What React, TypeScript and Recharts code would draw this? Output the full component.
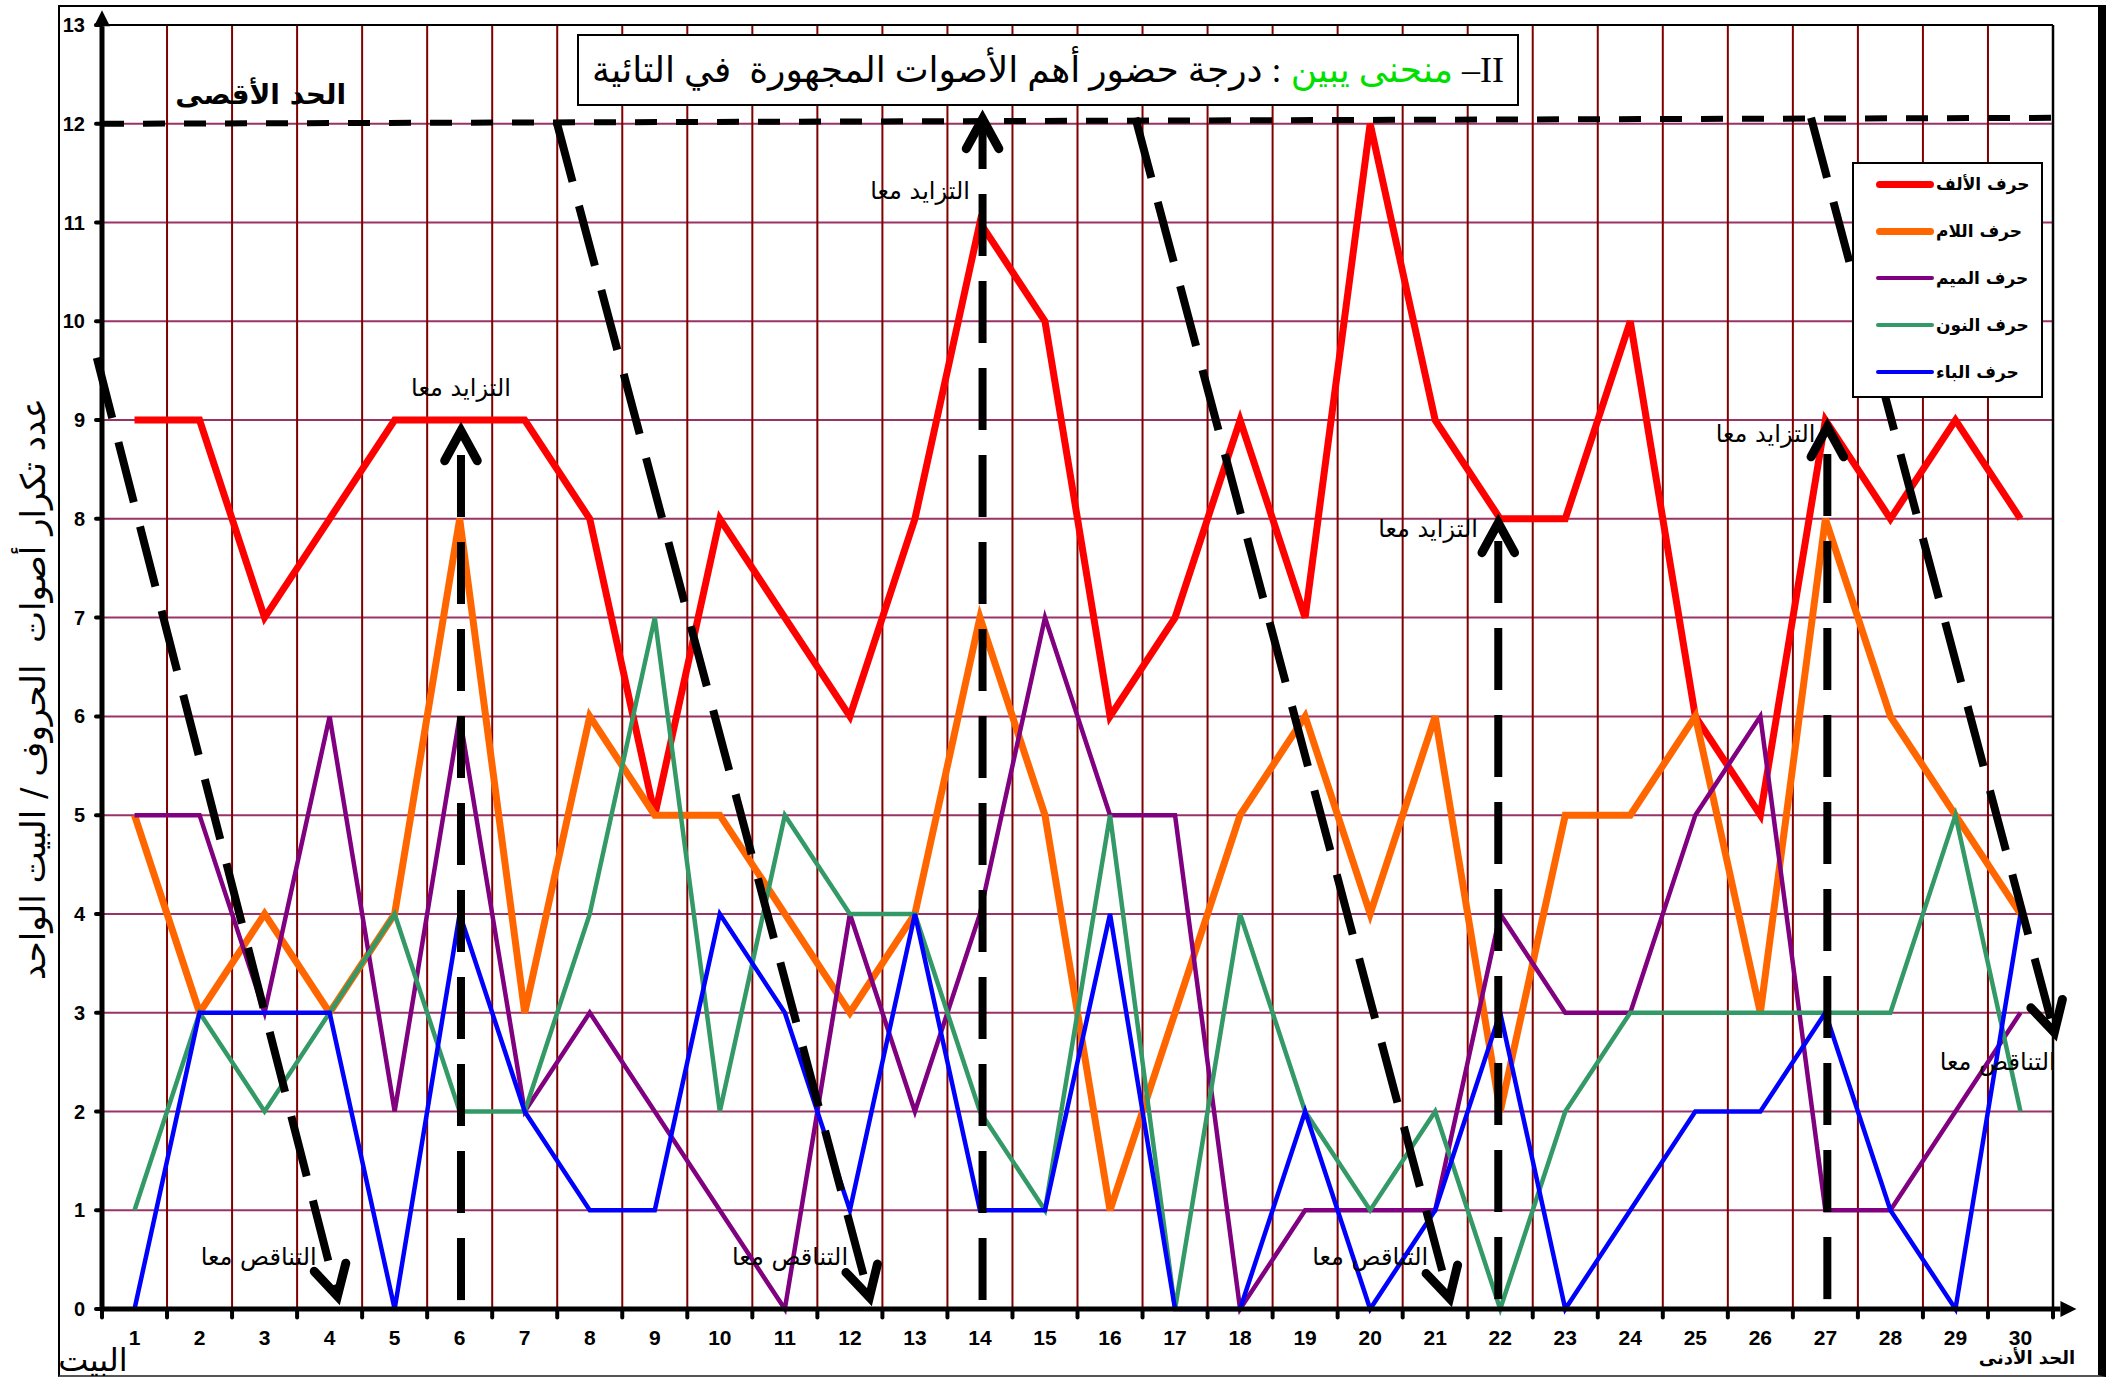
import React from "react";
import {
  CartesianGrid,
  Legend,
  Line,
  LineChart,
  ReferenceDot,
  ReferenceLine,
  XAxis,
  YAxis,
} from "recharts";

// verse number (البيت)
const bayt = [
  1, 2, 3, 4, 5, 6, 7, 8, 9, 10, 11, 12, 13, 14, 15, 16, 17, 18, 19, 20, 21,
  22, 23, 24, 25, 26, 27, 28, 29, 30,
];
const alif = [9, 9, 7, 8, 9, 9, 9, 8, 5, 8, 7, 6, 8, 11, 10, 6, 7, 9, 7, 12, 9, 8, 8, 10, 6, 5, 9, 8, 9, 8];
const lam = [5, 3, 4, 3, 4, 8, 3, 6, 5, 5, 4, 3, 4, 7, 5, 1, 3, 5, 6, 4, 6, 2, 5, 5, 6, 3, 8, 6, 5, 4];
const mim = [5, 5, 3, 6, 2, 6, 2, 3, 2, 1, 0, 4, 2, 4, 7, 5, 5, 0, 1, 1, 1, 4, 3, 3, 5, 6, 1, 1, 2, 3];
const nun = [1, 3, 2, 3, 4, 2, 2, 4, 7, 2, 5, 4, 4, 2, 1, 5, 0, 4, 2, 1, 2, 0, 2, 3, 3, 3, 3, 3, 5, 2];
const ba = [0, 3, 3, 3, 0, 4, 2, 1, 1, 4, 3, 1, 4, 1, 1, 4, 0, 0, 2, 0, 1, 3, 0, 1, 2, 2, 3, 1, 0, 4];

const yTicks = [0, 1, 2, 3, 4, 5, 6, 7, 8, 9, 10, 11, 12, 13];

// annotation shapes, in chart units (verse, count)
const maxLine = [0.5, 12, 30.5, 12.06];
const fallArrows = [
  [0.42, 9.63, 4.12, 0.13],
  [7.49, 12.02, 12.3, 0.12],
  [16.39, 12.06, 21.22, 0.11],
  [26.78, 12.06, 30.52, 2.8],
];
const riseArrows = [
  [6.02, 0.09, 8.89],
  [14.04, 0.09, 12.05],
  [21.97, 0.1, 7.96],
  [27.03, 0.1, 8.93],
];
const riseLabels = [
  [6.02, 9.32],
  [13.08, 11.32],
  [20.89, 7.9],
  [26.08, 8.86],
];
const fallLabels = [
  [2.91, 0.53],
  [11.08, 0.53],
  [20.0, 0.53],
  [29.65, 2.5],
];

const series = [
  { key: "alif", name: "حرف الألف", color: "#ff0000", width: 7 },
  { key: "lam", name: "حرف اللام", color: "#ff6600", width: 7 },
  { key: "mim", name: "حرف الميم", color: "#800080", width: 4.5 },
  { key: "nun", name: "حرف النون", color: "#339966", width: 4.5 },
  { key: "ba", name: "حرف الباء", color: "#0000ff", width: 4.5 },
];

const data = bayt.map((b, i) => ({
  bayt: b,
  alif: alif[i],
  lam: lam[i],
  mim: mim[i],
  nun: nun[i],
  ba: ba[i],
}));

const cellEdges = bayt.slice(0, -1).map((b) => b + 0.5);
const tickEdges = [0.5, ...cellEdges, 30.5];

const latin = '"Liberation Sans", Arial, sans-serif';
const arabic = '"DejaVu Sans", "Liberation Sans", sans-serif';

function openArrow(p: any) {
  const { x1, y1, x2, y2 } = p;
  const ang = Math.atan2(y2 - y1, x2 - x1);
  const L = 34;
  const s = 0.5;
  const ax = x2 - L * Math.cos(ang - s);
  const ay = y2 - L * Math.sin(ang - s);
  const bx = x2 - L * Math.cos(ang + s);
  const by = y2 - L * Math.sin(ang + s);
  const ex = x2 - 6 * Math.cos(ang);
  const ey = y2 - 6 * Math.sin(ang);
  return (
    <g>
      <line x1={x1} y1={y1} x2={ex} y2={ey} stroke="#000" strokeWidth={8} strokeDasharray="62 25" />
      <path
        d={`M${ax},${ay}L${x2},${y2}L${bx},${by}`}
        fill="none"
        stroke="#000"
        strokeWidth={9}
        strokeLinecap="round"
      />
    </g>
  );
}

function axisArrow(p: any) {
  const { x1, y1, x2, y2 } = p;
  const ang = Math.atan2(y2 - y1, x2 - x1);
  const L = 16;
  const hw = 8;
  const bx = x2 - L * Math.cos(ang);
  const by = y2 - L * Math.sin(ang);
  const px = -Math.sin(ang) * hw;
  const py = Math.cos(ang) * hw;
  return (
    <g>
      <line x1={x1} y1={y1} x2={bx} y2={by} stroke="#000" strokeWidth={5} />
      <polygon points={`${x2},${y2} ${bx + px},${by + py} ${bx - px},${by - py}`} fill="#000" />
    </g>
  );
}

function textShape(text: string, size: number, weight: number | string = 400) {
  return (p: any) => (
    <text
      x={p.cx}
      y={p.cy}
      textAnchor="middle"
      dominantBaseline="central"
      fontSize={size}
      fontWeight={weight}
      fontFamily={arabic}
      fill="#000"
    >
      {text}
    </text>
  );
}

function LegendBox() {
  return (
    <div
      style={{
        position: "relative",
        width: 191,
        height: 236,
        border: "2px solid #000",
        background: "#fff",
        boxSizing: "border-box",
      }}
    >
      {series.map((s, i) => (
        <div
          key={s.key}
          style={{
            position: "absolute",
            left: 22,
            top: 7 + i * 47,
            height: 26,
            display: "flex",
            alignItems: "center",
          }}
        >
          <div
            style={{
              width: 58,
              height: s.width,
              background: s.color,
              borderRadius: s.width / 2,
            }}
          />
          <span
            style={{
              marginLeft: 2,
              fontFamily: arabic,
              fontWeight: 700,
              fontSize: 17,
              color: "#000",
              direction: "rtl",
            }}
          >
            {s.name}
          </span>
        </div>
      ))}
    </div>
  );
}

export default function App() {
  return (
    <div style={{ position: "absolute", left: 0, top: 0, width: 2110, height: 1378, background: "#fff" }}>
      <div
        style={{
          position: "absolute",
          left: 58,
          top: 5,
          width: 2048,
          height: 1372,
          borderLeft: "2px solid #000",
          borderTop: "2px solid #000",
          borderBottom: "2px solid #555",
          borderRight: "8px solid #000",
          boxSizing: "border-box",
        }}
      />
      <LineChart
        width={2110}
        height={1378}
        data={data}
        margin={{ top: 25, right: 57, left: 52, bottom: 29 }}
      >
        <CartesianGrid vertical={false} stroke="#993366" strokeWidth={2} />
        <CartesianGrid horizontal={false} verticalValues={cellEdges} stroke="#800000" strokeWidth={2} />
        <XAxis
          dataKey="bayt"
          type="number"
          domain={[0.5, 30.5]}
          ticks={bayt}
          interval={0}
          height={40}
          axisLine={false}
          tickLine={false}
          tickSize={6}
          tickMargin={15}
          tick={{ fill: "#000", fontSize: 21, fontWeight: 700, fontFamily: latin }}
        />
        <YAxis
          domain={[0, 13]}
          ticks={yTicks}
          interval={0}
          width={50}
          axisLine={false}
          tickLine={{ stroke: "#000", strokeWidth: 4, strokeLinecap: "round" }}
          tickSize={6}
          tickMargin={11}
          tick={{ fill: "#000", fontSize: 20, fontWeight: 700, fontFamily: latin }}
        />
        <ReferenceLine y={13} stroke="#000" strokeWidth={2} ifOverflow="visible" />
        <ReferenceLine x={30.5} stroke="#000" strokeWidth={2.5} ifOverflow="visible" />
        {series.map((s) => (
          <Line
            key={s.key}
            type="linear"
            dataKey={s.key}
            name={s.name}
            stroke={s.color}
            strokeWidth={s.width}
            dot={false}
            activeDot={false}
            isAnimationActive={false}
          />
        ))}
        {tickEdges.map((e) => (
          <ReferenceLine
            key={`t${e}`}
            segment={[
              { x: e, y: 0 },
              { x: e, y: -0.085 },
            ]}
            stroke="#000"
            strokeWidth={4}
            strokeLinecap="round"
            ifOverflow="visible"
          />
        ))}
        <ReferenceLine
          segment={[
            { x: 0.5, y: 0 },
            { x: 0.5, y: 13.15 },
          ]}
          ifOverflow="visible"
          shape={axisArrow}
        />
        <ReferenceLine
          segment={[
            { x: 0.5, y: 0 },
            { x: 30.86, y: 0 },
          ]}
          ifOverflow="visible"
          shape={axisArrow}
        />
        <ReferenceLine
          segment={[
            { x: maxLine[0], y: maxLine[1] },
            { x: maxLine[2], y: maxLine[3] },
          ]}
          stroke="#000"
          strokeWidth={6}
          strokeDasharray="22 19"
          ifOverflow="visible"
        />
        {fallArrows.map((a, i) => (
          <ReferenceLine
            key={`f${i}`}
            segment={[
              { x: a[0], y: a[1] },
              { x: a[2], y: a[3] },
            ]}
            ifOverflow="visible"
            shape={openArrow}
          />
        ))}
        {riseArrows.map((a, i) => (
          <ReferenceLine
            key={`r${i}`}
            segment={[
              { x: a[0], y: a[1] },
              { x: a[0], y: a[2] },
            ]}
            ifOverflow="visible"
            shape={openArrow}
          />
        ))}
        {riseLabels.map((l, i) => (
          <ReferenceDot key={`rl${i}`} x={l[0]} y={l[1]} r={0} ifOverflow="visible" shape={textShape("التزايد معا", 24)} />
        ))}
        {fallLabels.map((l, i) => (
          <ReferenceDot key={`fl${i}`} x={l[0]} y={l[1]} r={0} ifOverflow="visible" shape={textShape("التناقص معا", 24)} />
        ))}
        <ReferenceDot x={2.94} y={12.3} r={0} ifOverflow="visible" shape={textShape("الحد الأقصى", 28, 700)} />
        <ReferenceDot x={30.1} y={-0.49} r={0} ifOverflow="visible" shape={textShape("الحد الأدنى", 18, 700)} />
        <ReferenceDot x={0.36} y={-0.52} r={0} ifOverflow="visible" shape={textShape("البيت", 32)} />
        <Legend
          layout="vertical"
          align="center"
          verticalAlign="middle"
          content={() => <LegendBox />}
          wrapperStyle={{ position: "absolute", left: 1852, top: 162, width: 191, height: 236 }}
        />
      </LineChart>
      <div
        style={{
          position: "absolute",
          left: 577,
          top: 34,
          width: 942,
          height: 72,
          border: "2px solid #000",
          background: "#fff",
          boxSizing: "border-box",
          display: "flex",
          alignItems: "center",
          justifyContent: "center",
          fontFamily: '"Liberation Serif", "DejaVu Sans", serif',
          fontSize: 36,
          direction: "rtl",
          whiteSpace: "pre",
          color: "#000",
        }}
      >
        <span>
          II– <span style={{ color: "#00e000" }}>منحنى يبين</span> : درجة حضور أهم الأصوات المجهورة  في التائية
        </span>
      </div>
      <div
        style={{
          position: "absolute",
          left: 33,
          top: 689,
          transform: "translate(-50%, -50%) rotate(-90deg)",
          whiteSpace: "pre",
          fontFamily: arabic,
          fontSize: 34,
          color: "#000",
          direction: "rtl",
        }}
      >
        عدد تكرار أصوات  الحروف / البيت الواحد
      </div>
    </div>
  );
}
